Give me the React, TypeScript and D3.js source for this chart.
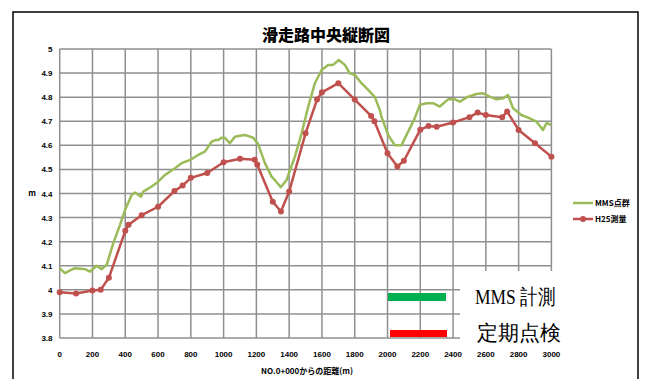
import React from "react";
import * as d3 from "d3";

const title = "滑走路中央縦断図";
const xTitle = "NO.0+000からの距離(m)";
const yTitle = "m";
const seriesNames = ["MMS点群", "H25測量"];
const xTicks = [0, 200, 400, 600, 800, 1000, 1200, 1400, 1600, 1800, 2000, 2200, 2400, 2600, 2800, 3000];
const yTicks = [3.8, 3.9, 4, 4.1, 4.2, 4.3, 4.4, 4.5, 4.6, 4.7, 4.8, 4.9, 5];

const mmsDist = [0, 32, 60, 93, 125, 154, 185, 225, 256, 287, 327, 368, 398, 439, 459, 496, 510, 561, 601, 642, 703, 744, 795, 845, 886, 927, 950, 967, 988, 1010, 1038, 1069, 1100, 1130, 1180, 1211, 1252, 1293, 1320, 1349, 1384, 1435, 1476, 1516, 1557, 1598, 1638, 1668, 1703, 1740, 1770, 1801, 1841, 1882, 1923, 1953, 1963, 2004, 2045, 2085, 2126, 2166, 2197, 2238, 2278, 2319, 2370, 2410, 2441, 2492, 2543, 2583, 2624, 2665, 2705, 2735, 2766, 2817, 2868, 2909, 2949, 2970, 3000];
const mmsElev = [4.09, 4.069, 4.08, 4.09, 4.088, 4.086, 4.076, 4.1, 4.086, 4.104, 4.194, 4.27, 4.33, 4.394, 4.404, 4.387, 4.408, 4.429, 4.449, 4.477, 4.505, 4.526, 4.539, 4.56, 4.574, 4.615, 4.622, 4.622, 4.632, 4.63, 4.609, 4.636, 4.64, 4.643, 4.632, 4.605, 4.526, 4.47, 4.45, 4.426, 4.456, 4.553, 4.65, 4.76, 4.858, 4.913, 4.934, 4.934, 4.954, 4.934, 4.899, 4.892, 4.858, 4.83, 4.8, 4.747, 4.719, 4.643, 4.6, 4.6, 4.657, 4.712, 4.768, 4.775, 4.775, 4.761, 4.791, 4.791, 4.781, 4.802, 4.813, 4.816, 4.802, 4.791, 4.795, 4.809, 4.754, 4.726, 4.712, 4.698, 4.664, 4.692, 4.685];

const h25Dist = [0, 100, 200, 250, 300, 400, 420, 500, 600, 700, 750, 800, 900, 1000, 1100, 1190, 1205, 1300, 1350, 1400, 1500, 1570, 1600, 1700, 1800, 1900, 1920, 2000, 2060, 2100, 2200, 2250, 2300, 2400, 2500, 2550, 2600, 2700, 2730, 2800, 2900, 3000];
const h25Elev = [3.99, 3.985, 3.997, 4.0, 4.05, 4.245, 4.27, 4.31, 4.345, 4.41, 4.433, 4.465, 4.485, 4.53, 4.544, 4.54, 4.52, 4.366, 4.325, 4.408, 4.65, 4.79, 4.82, 4.858, 4.79, 4.722, 4.7, 4.567, 4.512, 4.536, 4.665, 4.68, 4.677, 4.695, 4.717, 4.736, 4.726, 4.717, 4.74, 4.664, 4.609, 4.553];

const noteLabels = ["MMS 計測", "定期点検"];
const noteColors = ["#00b050", "#ff0000"];

const GREEN = "#9bbb59";
const RED = "#c0504d";
const GRID = "#8f8f8f";

export default function App() {
  const left = 59.7, right = 551.4, top = 49, bottom = 338;
  const x = d3.scaleLinear().domain([0, 3000]).range([left, right]);
  const y = d3.scaleLinear().domain([3.8, 5]).range([bottom, top]);
  const line = d3.line<[number, number]>().x(d => x(d[0])).y(d => y(d[1]));
  const mms: [number, number][] = mmsDist.map((d, i) => [d, mmsElev[i]]);
  const h25: [number, number][] = h25Dist.map((d, i) => [d, h25Elev[i]]);
  const tickFont = "'Liberation Sans', Arial, sans-serif";
  const cjkBold = "'Noto Sans CJK JP', 'Liberation Sans', sans-serif";

  return (
    <svg width={648} height={379} style={{ position: "absolute", left: 0, top: 0, background: "#fff" }}>
      <rect x={0} y={0} width={648} height={379} fill="#fff" />
      <rect x={13} y={12} width={625} height={380} fill="#fff" stroke="#000" strokeWidth={1.5} />
      <text x={326} y={41} textAnchor="middle" fontFamily={cjkBold} fontWeight={900} fontSize={16}>{title}</text>
      {/* grid */}
      {yTicks.map(t => (
        <line key={"gy" + t} x1={left} x2={right} y1={y(t)} y2={y(t)} stroke={GRID} strokeWidth={1.5} />
      ))}
      {xTicks.map(t => (
        <line key={"gx" + t} x1={x(t)} x2={x(t)} y1={top} y2={bottom} stroke={GRID} strokeWidth={1.5} />
      ))}
      {yTicks.map(t => (
        <text key={"ty" + t} x={52.5} y={y(t) + 3} textAnchor="end" fontFamily={tickFont} fontWeight="bold" fontSize={8}>{String(t)}</text>
      ))}
      {xTicks.map(t => (
        <text key={"tx" + t} x={x(t)} y={357} textAnchor="middle" fontFamily={tickFont} fontWeight="bold" fontSize={8}>{String(t)}</text>
      ))}
      <text x={307} y={374} textAnchor="middle" fontFamily={cjkBold} fontWeight="bold" fontSize={8}>{xTitle}</text>
      <text x={32} y={196} textAnchor="middle" fontFamily={cjkBold} fontWeight="bold" fontSize={8}>{yTitle}</text>
      {/* series */}
      <path d={line(mms) || ""} fill="none" stroke={GREEN} strokeWidth={2.5} strokeLinejoin="round" />
      <path d={line(h25) || ""} fill="none" stroke={RED} strokeWidth={2.5} strokeLinejoin="round" />
      {h25.map((d, i) => (
        <circle key={"m" + i} cx={x(d[0])} cy={y(d[1])} r={3} fill={RED} />
      ))}
      {/* legend */}
      <line x1={573} x2={593} y1={203} y2={203} stroke={GREEN} strokeWidth={2.5} />
      <text x={595} y={206} fontFamily={cjkBold} fontWeight="bold" fontSize={8}>{seriesNames[0]}</text>
      <line x1={573} x2={593} y1={219} y2={219} stroke={RED} strokeWidth={2.5} />
      <circle cx={583} cy={219} r={3} fill={RED} />
      <text x={595} y={222} fontFamily={cjkBold} fontWeight="bold" fontSize={8}>{seriesNames[1]}</text>
      {/* overlay note */}
      <rect x={460} y={271} width={110} height={75} fill="#fff" />
      <rect x={388} y={293} width={58} height={8} fill={noteColors[0]} />
      <rect x={390} y={330} width={57} height={7} fill={noteColors[1]} />
      <text x={475} y={304} fontFamily="'Liberation Serif', serif" fontSize={21} textLength={80} lengthAdjust="spacingAndGlyphs">{noteLabels[0]}</text>
      <text x={477} y={340} fontFamily="'Liberation Serif', serif" fontSize={21}>{noteLabels[1]}</text>
    </svg>
  );
}
